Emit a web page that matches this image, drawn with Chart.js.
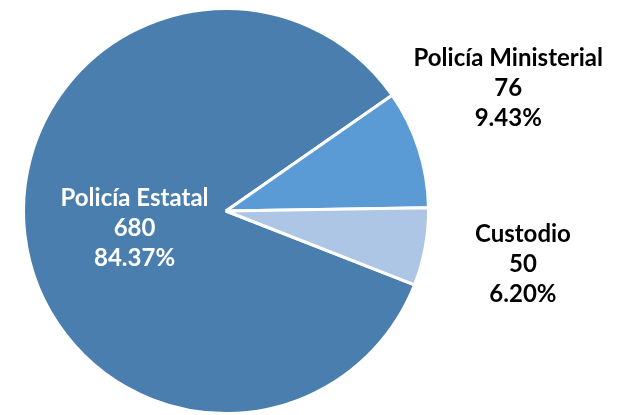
<!DOCTYPE html>
<html>
<head>
<meta charset="utf-8">
<script src="https://cdn.jsdelivr.net/npm/chart.js@4/dist/chart.umd.min.js"></script>
<style>
html,body{margin:0;padding:0;background:#fff;}
#wrap{width:617px;height:415px;position:relative;}
</style>
</head>
<body>
<div id="wrap"><canvas id="c" width="617" height="415"></canvas></div>
<script>
const categories = ["Policía Estatal", "Policía Ministerial", "Custodio"];
const values = [680, 76, 50];
const percentLabels = ["84.37%", "9.43%", "6.20%"];
const colors = ["#4A7EAE", "#5B9BD5", "#ADC6E5"];
const labelColors = ["#FFFFFF", "#000000", "#000000"];
const labelRadius = [0.46, 1.52, 1.49];
const labelAngleOffset = [-4.2, -5.6, 0];

const labelPlugin = {
  id: 'sliceLabels',
  afterDatasetsDraw(chart) {
    const ctx = chart.ctx;
    const meta = chart.getDatasetMeta(0);
    ctx.save();
    ctx.font = 'bold 24px Lato';
    ctx.textAlign = 'center';
    ctx.textBaseline = 'middle';
    meta.data.forEach((arc, i) => {
      const p = arc.getProps(['x','y','startAngle','endAngle','outerRadius'], true);
      const mid = (p.startAngle + p.endAngle) / 2 + labelAngleOffset[i] * Math.PI / 180;
      const r = p.outerRadius * labelRadius[i];
      const x = p.x + Math.cos(mid) * r;
      const y = p.y + Math.sin(mid) * r;
      ctx.fillStyle = labelColors[i];
      const lines = [categories[i], String(values[i]), percentLabels[i]];
      const lh = 30;
      lines.forEach((t, k) => {
        ctx.fillText(t, x, y + (k - 1) * lh);
      });
    });
    ctx.restore();
  }
};

new Chart(document.getElementById('c'), {
  type: 'pie',
  data: {
    labels: categories,
    datasets: [{
      data: values,
      backgroundColor: colors,
      borderColor: '#FFFFFF',
      borderWidth: 3
    }]
  },
  options: {
    responsive: false,
    animation: false,
    rotation: 111.4,
    layout: { padding: { left: 19, top: 7, right: 184, bottom: 0 } },
    plugins: {
      legend: { display: false },
      tooltip: { enabled: false }
    }
  },
  plugins: [labelPlugin]
});
</script>
</body>
</html>
